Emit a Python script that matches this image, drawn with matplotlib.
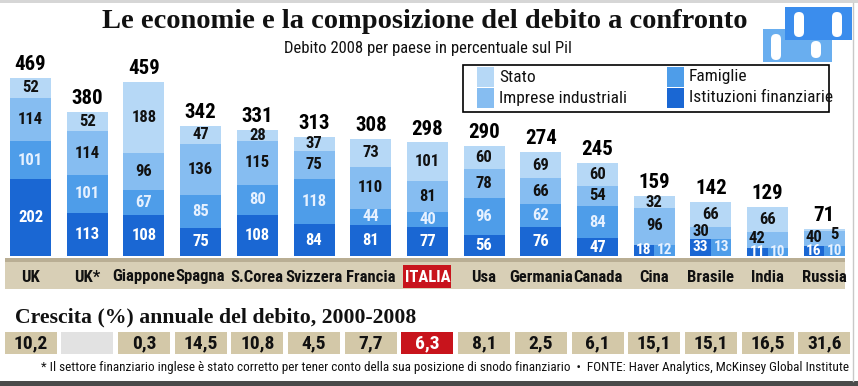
import numpy as np
import matplotlib.pyplot as plt
from matplotlib.patches import Rectangle, FancyBboxPatch

# ---------------- DATI ----------------
paesi = ["UK", "UK*", "Giappone", "Spagna", "S.Corea", "Svizzera", "Francia", "ITALIA",
         "Usa", "Germania", "Canada", "Cina", "Brasile", "India", "Russia"]
totale = [469, 380, 459, 342, 331, 313, 308, 298, 290, 274, 245, 159, 142, 129, 71]
istituzioni = [202, 113, 108, 75, 108, 84, 81, 77, 56, 76, 47, 18, 33, 11, 16]
famiglie = [101, 101, 67, 85, 80, 118, 44, 40, 96, 62, 84, 12, 13, 10, 10]
imprese = [114, 114, 96, 136, 115, 75, 110, 81, 78, 66, 54, 96, 30, 42, 40]
stato = [52, 52, 188, 47, 28, 37, 73, 101, 60, 69, 60, 32, 66, 66, 5]
crescita = ["10,2", "", "0,3", "14,5", "10,8", "4,5", "7,7", "6,3",
            "8,1", "2,5", "6,1", "15,1", "15,1", "16,5", "31,6"]
# paesi piccoli: la base della barra e' divisa in due (istituzioni | famiglie)
divisi = ["Cina", "Brasile", "India", "Russia"]

# ---------------- STILE ----------------
C_STATO = '#b6d8f6'
C_IMPRESE = '#86bdf1'
C_FAMIGLIE = '#4e9de9'
C_ISTIT = '#1a67d3'
BEIGE = '#d8cfb6'
BEIGE_BOX = '#d3c8a8'
ROSSO = '#c8141c'
NERO = '#111111'

NARROW = ['Roboto Condensed', 'DejaVu Sans']
SERIF = ['Liberation Serif', 'DejaVu Serif']

W, H = 858, 386
PASSO = 56.7      # distanza tra barre in pixel
X0 = 30.5         # centro prima barra
SCALA = 0.38      # pixel per punto percentuale
BASE = 256        # riga di base delle barre (pixel dall'alto)
LARG = 41 / PASSO

fig = plt.figure(figsize=(W / 100, H / 100), dpi=100)

# livello decorativo in coordinate pixel
ov = fig.add_axes([0, 0, 1, 1])
ov.set_xlim(0, W)
ov.set_ylim(H, 0)
ov.axis('off')

xlim = (-X0 / PASSO, (W - X0) / PASSO)

ax = fig.add_axes([0, (H - BASE) / H, 1, BASE / H])
ax.set_xlim(*xlim)
ax.set_ylim(0, BASE / SCALA)
ax.axis('off')
ax.patch.set_alpha(0)

ax2 = fig.add_axes([0, 0, 1, (H - BASE) / H])
ax2.set_xlim(*xlim)
ax2.set_ylim(H, BASE)
ax2.axis('off')
ax2.patch.set_alpha(0)

# ---------------- BARRE ----------------
x = np.arange(len(paesi))


def etichetta(xx, yy, testo, colore, fs=12):
    ax.text(xx, yy, testo, ha='center', va='center', fontsize=fs, fontweight='bold',
            family=NARROW, color=colore)


for i, p in enumerate(paesi):
    fin, fam, imp, sta = istituzioni[i], famiglie[i], imprese[i], stato[i]
    if p in divisi:
        riga = fin + fam
        ax.bar(i - LARG / 4, riga, width=LARG / 2, color=C_ISTIT)
        ax.bar(i + LARG / 4, riga, width=LARG / 2, color=C_FAMIGLIE)
        etichetta(i - LARG / 4, riga / 2, str(fin), 'white', 11)
        etichetta(i + LARG / 4, riga / 2, str(fam), '#e6f1ff', 11)
        base = riga
        ax.bar(i, imp, bottom=base, width=LARG, color=C_IMPRESE)
        ax.bar(i, sta, bottom=base + imp, width=LARG, color=C_STATO)
        xi = i - LARG / 4 if imp < 50 else i
        etichetta(xi, base + imp / 2 + 3, str(imp), NERO)
        if sta < 10:
            etichetta(i + LARG / 4, base + (imp + sta) / 2 + 8, str(sta), NERO)
        else:
            etichetta(i, base + imp + sta / 2, str(sta), NERO)
        top = base + imp + sta
    else:
        base = 0
        for val, col, tcol in [(fin, C_ISTIT, 'white'), (fam, C_FAMIGLIE, '#e6f1ff'),
                               (imp, C_IMPRESE, NERO), (sta, C_STATO, NERO)]:
            ax.bar(i, val, bottom=base, width=LARG, color=col)
            etichetta(i, base + val / 2, str(val), tcol)
            base += val
        top = base
    ax.text(i, top + 10, str(totale[i]), ha='center', va='bottom', fontsize=15,
            fontweight='bold', family=NARROW, color='black')

# ---------------- FASCIA PAESI ----------------
ax2.axhspan(258, 262, xmin=5 / W, xmax=845 / W, color='#b9ae94', lw=0)
ax2.axhspan(262, 289, xmin=5 / W, xmax=845 / W, color=BEIGE, lw=0)
for i, p in enumerate(paesi):
    if p == "ITALIA":
        ax2.bar(i, 23, bottom=265, width=48 / PASSO, color=ROSSO)
        col = 'white'
    else:
        col = NERO
    ax2.text(i, 277, p, ha='center', va='center', fontsize=12, fontweight='bold',
             family=NARROW, color=col)

# ---------------- CRESCITA ----------------
fig.text(15 / W, 1 - 322 / H, "Crescita (%) annuale del debito, 2000-2008", fontsize=15.7,
         fontweight='bold', family=SERIF, color=NERO, ha='left', va='baseline')

col_box = [ROSSO if p == "ITALIA" else ('#e2e2e2' if c == "" else BEIGE_BOX)
           for p, c in zip(paesi, crescita)]
ax2.bar(x, 22, bottom=332, width=52 / PASSO, color=col_box)
for i, c in enumerate(crescita):
    ax2.text(i, 343, c, ha='center', va='center', fontsize=14, fontweight='bold',
             family=NARROW, color='white' if paesi[i] == "ITALIA" else NERO)

# ---------------- TITOLI ----------------
fig.text(425 / W, 1 - 28 / H, "Le economie e la composizione del debito a confronto",
         fontsize=20.5, fontweight='bold', family=SERIF, ha='center', va='baseline', color=NERO)
fig.text(428 / W, 1 - 48 / H, "Debito 2008 per paese in percentuale sul Pil",
         fontsize=12, family=NARROW, ha='center', va='center', color=NERO)

# ---------------- LEGENDA ----------------
ov.add_patch(Rectangle((463, 65), 366, 47, facecolor='white', edgecolor='black', lw=1.2))
voci = [("Stato", C_STATO, 477, 67), ("Imprese industriali", C_IMPRESE, 477, 88),
        ("Famiglie", C_FAMIGLIE, 667, 67), ("Istituzioni finanziarie", C_ISTIT, 667, 88)]
for nome, col, lx, ly in voci:
    ov.add_patch(Rectangle((lx, ly), 17, 20, facecolor=col, edgecolor='none'))
    ov.text(lx + 22, ly + 10, nome, fontsize=12.5, family=NARROW, va='center', ha='left',
            color=NERO)

# ---------------- LOGO ----------------
ov.add_patch(Rectangle((763, 29), 69, 33, facecolor='#69aeef', edgecolor='none'))
ov.add_patch(Rectangle((785, 7), 67, 33, facecolor='#3b8ded', edgecolor='none'))
for px, py, ph in [(794, 12, 25), (832, 12, 25), (771, 34, 26), (811, 41, 17)]:
    ov.add_patch(FancyBboxPatch((px, py), 10, ph, boxstyle="round,pad=0,rounding_size=5",
                                facecolor='white', edgecolor='none'))

# ---------------- NOTE E CORNICE ----------------
fig.text(445 / W, 1 - 368 / H,
         "* Il settore finanziario inglese è stato corretto per tener conto della sua posizione "
         "di snodo finanziario  •  FONTE: Haver Analytics, McKinsey Global Institute",
         fontsize=9.5, family=NARROW, ha='center', va='center', color=NERO)
ov.add_patch(Rectangle((0, 0), W, 3, facecolor='#d6d6d6', edgecolor='none'))
ov.add_patch(Rectangle((0, 381), W, 5, facecolor='#4a4a4a', edgecolor='none'))
ov.plot([853, 853], [3, 381], color='#c8c8c8', lw=1)

fig.savefig("out.png", dpi=100)
